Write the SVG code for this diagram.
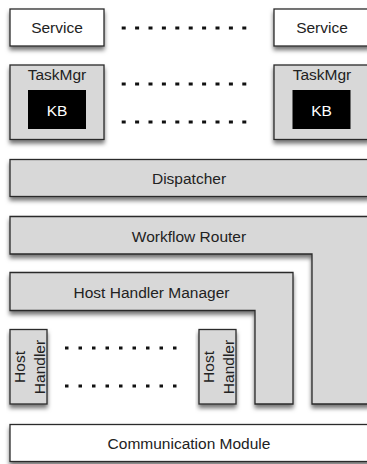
<svg xmlns="http://www.w3.org/2000/svg" width="367" height="464" viewBox="0 0 367 464">
  <defs>
    <filter id="shadow" x="-10%" y="-20%" width="130%" height="150%">
      <feDropShadow dx="0" dy="3.5" stdDeviation="2.2" flood-color="#000" flood-opacity="0.55"/>
    </filter>
  </defs>
  <style>
    .box { stroke: #2a2a2a; stroke-width: 1.3; filter: url(#shadow); }
    .white { fill: #ffffff; }
    .grey { fill: #d8d8d8; }
    .kb { fill: #000000; }
    text { font-family: "Liberation Sans", Arial, sans-serif; font-size: 15.5px; fill: #222; text-anchor: middle; }
    .kbt { fill: #ffffff; }
    .dots { stroke: #111; stroke-width: 3; fill: none; }
  </style>
  <rect width="367" height="464" fill="#ffffff"/>

  <!-- service layer -->
  <g id="service-left">
    <rect class="box white" x="10" y="9" width="94" height="37"/>
    <text x="57" y="33">Service</text>
  </g>
  <g id="service-right">
    <rect class="box white" x="274" y="9" width="96" height="37"/>
    <text x="322" y="33">Service</text>
  </g>

  <!-- task managers with knowledge bases -->
  <g id="taskmgr-left">
    <rect class="box grey" x="10" y="65" width="94" height="74.5"/>
    <text x="57" y="79.5">TaskMgr</text>
    <rect class="kb" x="28" y="90" width="58" height="39"/>
    <text class="kbt" x="57" y="115.5">KB</text>
  </g>
  <g id="taskmgr-right">
    <rect class="box grey" x="274" y="65" width="96" height="74.5"/>
    <text x="322" y="79.5">TaskMgr</text>
    <rect class="kb" x="292.5" y="90" width="58" height="39"/>
    <text class="kbt" x="321.5" y="115.5">KB</text>
  </g>

  <g id="dispatcher">
    <rect class="box grey" x="10" y="159.5" width="360" height="37"/>
    <text x="189" y="184">Dispatcher</text>
  </g>

  <g id="workflow-router">
    <path class="box grey" d="M10,216.5 H370 V404 H312 V254 H10 Z"/>
    <text x="189" y="241.5">Workflow Router</text>
  </g>

  <g id="host-handler-manager">
    <path class="box grey" d="M10,272.5 H293 V404 H255 V310.5 H10 Z"/>
    <text x="151.5" y="298">Host Handler Manager</text>
  </g>

  <g id="host-handler-left">
    <rect class="box grey" x="10" y="329.5" width="37" height="74.5"/>
    <text transform="translate(25,367) rotate(-90)" x="0" y="0">Host</text>
    <text transform="translate(44.5,367) rotate(-90)" x="0" y="0">Handler</text>
  </g>
  <g id="host-handler-right">
    <rect class="box grey" x="199" y="329.5" width="37" height="74.5"/>
    <text transform="translate(214,367) rotate(-90)" x="0" y="0">Host</text>
    <text transform="translate(233.5,367) rotate(-90)" x="0" y="0">Handler</text>
  </g>

  <g id="communication-module">
    <rect class="box white" x="10" y="424.5" width="360" height="37"/>
    <text x="189" y="448.5">Communication Module</text>
  </g>

  <!-- elided repetitions between instances -->
  <g id="connectors">
    <line class="dots" x1="121.7" y1="28" x2="246.7" y2="28" stroke-dasharray="4 9.4"/>
    <line class="dots" x1="121.7" y1="84" x2="246.7" y2="84" stroke-dasharray="4 9.4"/>
    <line class="dots" x1="121.7" y1="122" x2="246.7" y2="122" stroke-dasharray="4 9.4"/>
    <line class="dots" x1="65" y1="348" x2="177" y2="348" stroke-dasharray="3.5 10"/>
    <line class="dots" x1="65" y1="386" x2="177" y2="386" stroke-dasharray="3.5 10"/>
  </g>
</svg>
